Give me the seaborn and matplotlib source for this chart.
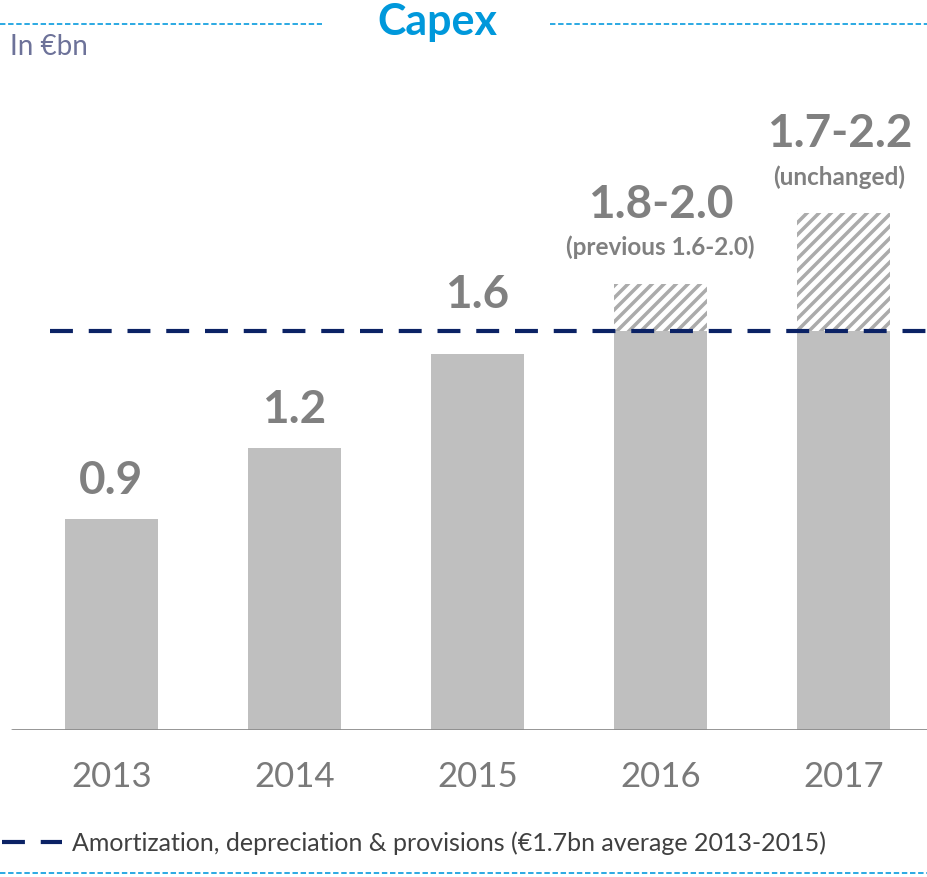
import matplotlib
matplotlib.use("Agg")
import matplotlib.pyplot as plt
from matplotlib.lines import Line2D
import seaborn as sns
import pandas as pd
import numpy as np

# Data
years = ["2013", "2014", "2015", "2016", "2017"]
capex_solid = [0.9, 1.2, 1.6, 1.7, 1.7]               # floor part of each bar
capex_range_top = [np.nan, np.nan, np.nan, 1.9, 2.2]  # top of the guidance range
bar_labels = ["0.9", "1.2", "1.6", "1.8-2.0", "1.7-2.2"]
bar_sublabels = ["", "", "", "(previous 1.6-2.0)", "(unchanged)"]
amort_avg = 1.7
legend_text = "Amortization, depreciation & provisions (\u20ac1.7bn average 2013-2015)"

df = pd.DataFrame({"year": years, "solid": capex_solid, "top": capex_range_top})

sns.set_theme(style="white")
plt.rcParams["font.family"] = ["Lato", "DejaVu Sans"]

# figure is laid out at 72 dpi so that one point equals one pixel
DPI = 72
PT = 100 / 72  # size factor relative to a 100 dpi layout
W, H = 927, 877
fig = plt.figure(figsize=(W / DPI, H / DPI), dpi=DPI)
ax = fig.add_axes([0, 1 - 730 / H, 1, (730 - 70) / H])

plt.rcParams["hatch.linewidth"] = 3.5

# guidance range (hatched)
sns.barplot(data=df, x="year", y="top", order=years, ax=ax, width=0.51,
            color="white", edgecolor="#ababab", linewidth=0, hatch="//",
            saturation=1)
# solid part
sns.barplot(data=df, x="year", y="solid", order=years, ax=ax, width=0.51,
            color="#bfbfbf", linewidth=0, saturation=1)

ax.set_xlim(-111.5 / 183, (W - 111.5) / 183)
ax.set_ylim(0, 660 / 235)
for s in ax.spines.values():
    s.set_visible(False)
ax.set_yticks([])
ax.set_xlabel("")
ax.set_ylabel("")
ax.tick_params(axis="x", length=0, pad=22 * PT, labelsize=25 * PT,
               labelcolor="#7a7a7a")

# baseline
ax.axhline(0, xmin=12 / W, xmax=1, color="#8c8c8c", lw=2 * PT, zorder=5)

# average amortization line
avg_line = ax.axhline(amort_avg, xmin=50 / W, xmax=1, color="#0b2265", lw=3 * PT,
                      dashes=(5.5, 3.8), zorder=6, label=legend_text)

# value labels
label_color = "#808080"
for i, (lab, sub) in enumerate(zip(bar_labels, bar_sublabels)):
    top = capex_range_top[i] if not np.isnan(capex_range_top[i]) else capex_solid[i]
    dx = -4 if i == 4 else 0
    if sub:
        ax.annotate(sub, (i, top), xytext=(dx, 36), textcoords="offset pixels",
                    ha="center", va="center", fontsize=17.5 * PT, fontweight="bold",
                    color=label_color)
        ax.annotate(lab, (i, top), xytext=(dx, 79), textcoords="offset pixels",
                    ha="center", va="center", fontsize=33 * PT, fontweight="bold",
                    color=label_color)
    else:
        off = 59 if i == 2 else 38
        ax.annotate(lab, (i, top), xytext=(0, off), textcoords="offset pixels",
                    ha="center", va="center", fontsize=33 * PT, fontweight="bold",
                    color=label_color)

# header
fig.text(437 / W, 1 - 22 / H, "Capex", ha="center", va="center", fontsize=31 * PT,
         fontweight="bold", color="#0098db")
fig.text(10 / W, 1 - 47 / H, "In \u20acbn", ha="left", va="center", fontsize=20 * PT,
         color="#6d7299")
dash_kw = dict(color="#1aa3e0", lw=1.3 * PT, dashes=(3, 1.5), transform=fig.transFigure)
fig.add_artist(Line2D([0, 322 / W], [1 - 24 / H] * 2, **dash_kw))
fig.add_artist(Line2D([550 / W, 1], [1 - 24 / H] * 2, **dash_kw))
fig.add_artist(Line2D([0, 1], [1 - 873 / H] * 2, **dash_kw))

# legend
ax.legend(handles=[avg_line], loc="center left",
          bbox_to_anchor=(-21 / W, 1 - 843 / H), bbox_transform=fig.transFigure,
          frameon=False, fontsize=18 * PT, handlelength=2.4, handletextpad=0.4,
          labelcolor="#404040")

fig.savefig("out.png", dpi=DPI)
